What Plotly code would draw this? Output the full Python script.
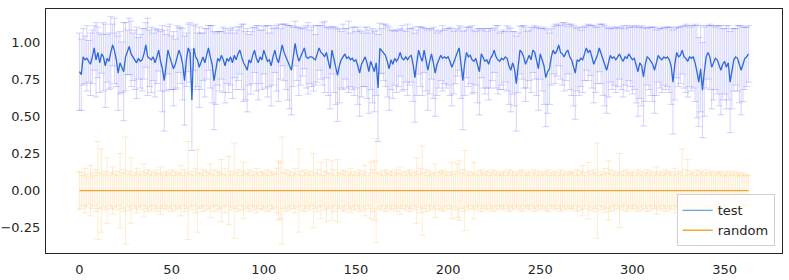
import plotly.graph_objects as go

# x positions: days 0..363
days = list(range(364))

test_mean = [
    0.80, 0.78, 0.90, 0.88, 0.89, 0.87, 0.85, 0.90, 0.96, 0.88,
    0.93, 0.86, 0.92, 0.90, 0.84, 0.89, 0.87, 0.93, 0.98, 0.94,
    0.88, 0.79, 0.86, 0.83, 0.80, 0.90, 0.93, 0.97, 0.92, 0.90,
    0.88, 0.86, 0.89, 0.87, 0.88, 0.92, 0.98, 0.90, 0.89, 0.88,
    0.90, 0.86, 0.90, 0.945, 0.87, 0.82, 0.74, 0.86, 0.945, 0.90,
    0.86, 0.82, 0.85, 0.90, 0.945, 0.91, 0.85, 0.74, 0.88, 0.96,
    0.93, 0.61, 0.96, 0.90, 0.88, 0.83, 0.87, 0.90, 0.86, 0.92,
    0.96, 0.90, 0.85, 0.74, 0.82, 0.89, 0.87, 0.91, 0.88, 0.84,
    0.89, 0.87, 0.90, 0.86, 0.91, 0.88, 0.92, 0.945, 0.90, 0.86,
    0.84, 0.81, 0.88, 0.86, 0.91, 0.945, 0.89, 0.86, 0.90, 0.88,
    0.945, 0.90, 0.87, 0.88, 0.84, 0.90, 0.945, 0.89, 0.86, 0.92,
    0.98, 0.93, 0.90, 0.86, 0.83, 0.81, 0.90, 0.99, 0.92, 0.87,
    0.90, 0.93, 0.96, 0.90, 0.89, 0.90, 0.90, 0.89, 0.88, 0.92,
    0.96, 0.93, 0.92, 0.90, 0.93, 0.87, 0.82, 0.945, 0.88, 0.84,
    0.776, 0.84, 0.88, 0.90, 0.92, 0.89, 0.90, 0.88, 0.89, 0.87,
    0.88, 0.84, 0.79, 0.85, 0.88, 0.90, 0.86, 0.80, 0.87, 0.84,
    0.80, 0.86, 0.69, 0.957, 0.94, 0.93, 0.91, 0.87, 0.82, 0.88,
    0.85, 0.89, 0.87, 0.89, 0.93, 0.89, 0.88, 0.90, 0.88, 0.90,
    0.91, 0.85, 0.76, 0.86, 0.945, 0.90, 0.87, 0.945, 0.88, 0.81,
    0.87, 0.92, 0.86, 0.79, 0.85, 0.88, 0.91, 0.89, 0.90, 0.89,
    0.90, 0.87, 0.83, 0.86, 0.90, 0.93, 0.96, 0.86, 0.74, 0.86,
    0.93, 0.90, 0.91, 0.88, 0.87, 0.89, 0.84, 0.80, 0.92, 0.89,
    0.87, 0.88, 0.85, 0.89, 0.91, 0.945, 0.90, 0.88, 0.87, 0.89,
    0.88, 0.90, 0.89, 0.84, 0.81, 0.86, 0.82, 0.72, 0.86, 0.945,
    0.93, 0.90, 0.85, 0.88, 0.91, 0.88, 0.945, 0.93, 0.87, 0.82,
    0.92, 0.88, 0.84, 0.76, 0.80, 0.82, 0.90, 0.945, 0.92, 0.94,
    0.98, 0.93, 0.92, 0.90, 0.93, 0.945, 0.90, 0.88, 0.84, 0.79,
    0.88, 0.87, 0.89, 0.88, 0.92, 0.96, 0.93, 0.945, 0.90, 0.85,
    0.88, 0.91, 0.96, 0.92, 0.88, 0.84, 0.81, 0.86, 0.91, 0.89,
    0.90, 0.88, 0.90, 0.92, 0.89, 0.87, 0.90, 0.89, 0.92, 0.90,
    0.88, 0.89, 0.85, 0.80, 0.86, 0.84, 0.765, 0.85, 0.90, 0.89,
    0.87, 0.85, 0.81, 0.86, 0.91, 0.89, 0.88, 0.90, 0.89, 0.90,
    0.88, 0.84, 0.73, 0.85, 0.93, 0.90, 0.91, 0.945, 0.90, 0.89,
    0.87, 0.90, 0.89, 0.90, 0.86, 0.80, 0.73, 0.82, 0.676, 0.80,
    0.90, 0.93, 0.90, 0.83, 0.86, 0.89, 0.88, 0.84, 0.81, 0.85,
    0.87, 0.83, 0.86, 0.73, 0.82, 0.88, 0.90, 0.89, 0.85, 0.81,
    0.85, 0.89, 0.90, 0.92,
]

test_err = [
    0.26, 0.24, 0.19, 0.16, 0.22, 0.14, 0.21, 0.18, 0.15, 0.25,
    0.17, 0.20, 0.13, 0.23, 0.28, 0.16, 0.19, 0.24, 0.14, 0.22,
    0.18, 0.25, 0.21, 0.17, 0.33, 0.23, 0.15, 0.19, 0.22, 0.16,
    0.20, 0.24, 0.14, 0.18, 0.21, 0.17, 0.15, 0.26, 0.19, 0.22,
    0.16, 0.23, 0.18, 0.14, 0.20, 0.29, 0.34, 0.19, 0.16, 0.22,
    0.18, 0.25, 0.17, 0.21, 0.15, 0.19, 0.24, 0.30, 0.18, 0.16,
    0.20, 0.34, 0.15, 0.22, 0.18, 0.27, 0.19, 0.16, 0.23, 0.17,
    0.15, 0.21, 0.26, 0.33, 0.24, 0.18, 0.20, 0.16, 0.22, 0.25,
    0.17, 0.21, 0.19, 0.24, 0.15, 0.20, 0.18, 0.16, 0.22, 0.26,
    0.23, 0.28, 0.17, 0.21, 0.19, 0.15, 0.22, 0.25, 0.18, 0.20,
    0.16, 0.21, 0.24, 0.18, 0.27, 0.19, 0.15, 0.22, 0.26, 0.17,
    0.14, 0.19, 0.22, 0.25, 0.28, 0.30, 0.20, 0.15, 0.18, 0.23,
    0.19, 0.16, 0.14, 0.21, 0.24, 0.18, 0.20, 0.22, 0.17, 0.19,
    0.15, 0.18, 0.21, 0.24, 0.17, 0.23, 0.27, 0.16, 0.22, 0.26,
    0.31, 0.25, 0.19, 0.22, 0.17, 0.20, 0.24, 0.18, 0.21, 0.23,
    0.19, 0.26, 0.29, 0.22, 0.18, 0.20, 0.24, 0.28, 0.19, 0.25,
    0.27, 0.22, 0.36, 0.17, 0.15, 0.19, 0.21, 0.24, 0.28, 0.20,
    0.23, 0.18, 0.21, 0.19, 0.16, 0.22, 0.20, 0.17, 0.24, 0.19,
    0.18, 0.25, 0.30, 0.22, 0.16, 0.20, 0.23, 0.15, 0.21, 0.27,
    0.22, 0.17, 0.24, 0.29, 0.21, 0.19, 0.17, 0.22, 0.18, 0.20,
    0.19, 0.23, 0.26, 0.21, 0.18, 0.16, 0.15, 0.24, 0.33, 0.22,
    0.17, 0.20, 0.19, 0.23, 0.21, 0.18, 0.25, 0.29, 0.16, 0.20,
    0.22, 0.19, 0.24, 0.20, 0.17, 0.15, 0.21, 0.23, 0.19, 0.18,
    0.20, 0.17, 0.22, 0.26, 0.28, 0.21, 0.25, 0.32, 0.20, 0.16,
    0.18, 0.21, 0.25, 0.19, 0.17, 0.22, 0.15, 0.18, 0.23, 0.28,
    0.17, 0.21, 0.26, 0.33, 0.28, 0.24, 0.19, 0.16, 0.20, 0.17,
    0.14, 0.18, 0.21, 0.23, 0.19, 0.16, 0.22, 0.24, 0.27, 0.31,
    0.21, 0.23, 0.19, 0.22, 0.18, 0.15, 0.19, 0.17, 0.21, 0.26,
    0.22, 0.19, 0.16, 0.20, 0.24, 0.27, 0.29, 0.23, 0.18, 0.21,
    0.19, 0.22, 0.20, 0.17, 0.21, 0.24, 0.19, 0.22, 0.18, 0.20,
    0.23, 0.21, 0.26, 0.30, 0.24, 0.27, 0.33, 0.25, 0.19, 0.21,
    0.23, 0.25, 0.29, 0.22, 0.18, 0.20, 0.22, 0.19, 0.21, 0.20,
    0.22, 0.26, 0.35, 0.24, 0.17, 0.20, 0.19, 0.16, 0.21, 0.23,
    0.24, 0.20, 0.22, 0.21, 0.26, 0.31, 0.30, 0.29, 0.32, 0.30,
    0.21, 0.18, 0.22, 0.28, 0.25, 0.21, 0.23, 0.27, 0.30, 0.24,
    0.22, 0.28, 0.25, 0.34, 0.27, 0.21, 0.19, 0.22, 0.26, 0.30,
    0.25, 0.21, 0.20, 0.19,
]

# the random baseline sits exactly on zero for every day
random_mean = [0.0] * 364

random_err = [
    0.13, 0.12, 0.10, 0.15, 0.11, 0.09, 0.17, 0.12, 0.10, 0.14,
    0.33, 0.12, 0.28, 0.11, 0.13, 0.22, 0.10, 0.12, 0.16, 0.11,
    0.13, 0.10, 0.25, 0.12, 0.14, 0.36, 0.11, 0.13, 0.22, 0.10,
    0.12, 0.15, 0.11, 0.13, 0.10, 0.18, 0.12, 0.14, 0.11, 0.13,
    0.10, 0.12, 0.14, 0.11, 0.16, 0.12, 0.10, 0.13, 0.11, 0.12,
    0.14, 0.10, 0.13, 0.11, 0.12, 0.17, 0.10, 0.14, 0.12, 0.33,
    0.11, 0.13, 0.10, 0.15, 0.28, 0.12, 0.11, 0.14, 0.10, 0.13,
    0.12, 0.18, 0.11, 0.14, 0.10, 0.13, 0.12, 0.21, 0.11, 0.15,
    0.10, 0.23, 0.13, 0.11, 0.32, 0.12, 0.14, 0.10, 0.13, 0.19,
    0.11, 0.12, 0.14, 0.10, 0.13, 0.11, 0.15, 0.12, 0.10, 0.13,
    0.12, 0.11, 0.14, 0.10, 0.13, 0.12, 0.11, 0.15, 0.20, 0.19,
    0.36, 0.12, 0.14, 0.11, 0.13, 0.10, 0.12, 0.15, 0.11, 0.28,
    0.13, 0.10, 0.14, 0.12, 0.11, 0.13, 0.10, 0.25, 0.12, 0.14,
    0.11, 0.19, 0.10, 0.13, 0.21, 0.12, 0.11, 0.20, 0.14, 0.10,
    0.21, 0.12, 0.11, 0.14, 0.13, 0.10, 0.12, 0.15, 0.11, 0.13,
    0.10, 0.12, 0.14, 0.11, 0.13, 0.17, 0.10, 0.12, 0.19, 0.14,
    0.20, 0.35, 0.12, 0.11, 0.13, 0.10, 0.14, 0.12, 0.11, 0.13,
    0.10, 0.12, 0.14, 0.11, 0.16, 0.12, 0.10, 0.13, 0.11, 0.14,
    0.12, 0.10, 0.13, 0.22, 0.11, 0.15, 0.30, 0.12, 0.14, 0.10,
    0.13, 0.11, 0.12, 0.18, 0.10, 0.13, 0.12, 0.14, 0.11, 0.13,
    0.10, 0.12, 0.19, 0.11, 0.13, 0.18, 0.20, 0.12, 0.14, 0.27,
    0.11, 0.13, 0.10, 0.12, 0.19, 0.11, 0.13, 0.10, 0.14, 0.12,
    0.11, 0.13, 0.10, 0.12, 0.14, 0.11, 0.13, 0.10, 0.12, 0.11,
    0.13, 0.10, 0.12, 0.14, 0.11, 0.13, 0.10, 0.12, 0.11, 0.13,
    0.14, 0.10, 0.12, 0.11, 0.13, 0.10, 0.12, 0.14, 0.11, 0.13,
    0.10, 0.12, 0.11, 0.13, 0.14, 0.10, 0.12, 0.11, 0.13, 0.10,
    0.12, 0.14, 0.11, 0.13, 0.10, 0.12, 0.11, 0.13, 0.12, 0.10,
    0.14, 0.11, 0.13, 0.17, 0.12, 0.10, 0.19, 0.13, 0.11, 0.14,
    0.12, 0.32, 0.10, 0.13, 0.11, 0.15, 0.12, 0.20, 0.14, 0.11,
    0.13, 0.10, 0.12, 0.25, 0.11, 0.13, 0.10, 0.14, 0.12, 0.11,
    0.13, 0.10, 0.12, 0.14, 0.11, 0.13, 0.10, 0.12, 0.14, 0.11,
    0.13, 0.10, 0.12, 0.16, 0.11, 0.13, 0.10, 0.12, 0.14, 0.11,
    0.13, 0.12, 0.10, 0.15, 0.11, 0.13, 0.12, 0.28, 0.10, 0.14,
    0.21, 0.11, 0.13, 0.12, 0.10, 0.14, 0.11, 0.13, 0.12, 0.10,
    0.14, 0.11, 0.12, 0.13, 0.10, 0.12, 0.11, 0.13, 0.12, 0.10,
    0.11, 0.13, 0.10, 0.12, 0.11, 0.13, 0.10, 0.12, 0.11, 0.10,
    0.12, 0.10, 0.11, 0.10,
]

x_ticks = [0, 50, 100, 150, 200, 250, 300, 350]
y_ticks = [-0.25, 0.0, 0.25, 0.5, 0.75, 1.0]
y_tick_text = ["\u22120.25", "0.00", "0.25", "0.50", "0.75", "1.00"]
series_names = ["test", "random"]

FONT = "DejaVu Sans, sans-serif"
TXT = "#262626"

fig = go.Figure()

fig.add_trace(go.Scatter(
    x=days, y=test_mean, mode="lines", showlegend=False,
    line=dict(color="#2e69d8", width=1.3),
    error_y=dict(type="data", array=test_err, visible=True,
                 color="rgba(40,40,255,0.2)", thickness=1, width=3.5),
))
fig.add_trace(go.Scatter(
    x=days, y=random_mean, mode="lines", showlegend=False,
    line=dict(color="#f2a531", width=1.1),
    error_y=dict(type="data", array=random_err, visible=True,
                 color="rgba(255,170,40,0.22)", thickness=1, width=3.5),
))

# legend entries
fig.add_trace(go.Scatter(x=[None], y=[None], mode="lines", name=series_names[0],
                         line=dict(color="#5ea6e4", width=1.3)))
fig.add_trace(go.Scatter(x=[None], y=[None], mode="lines", name=series_names[1],
                         line=dict(color="#f5a733", width=1.3)))

fig.update_layout(
    width=789, height=280,
    margin=dict(l=46, r=7, t=9, b=27, autoexpand=False),
    paper_bgcolor="white", plot_bgcolor="white",
    font=dict(family=FONT, size=13, color=TXT),
    showlegend=True,
    legend=dict(
        x=0.990, y=0.027, xanchor="right", yanchor="bottom",
        bgcolor="rgba(255,255,255,0.8)", bordercolor="#d0d0d0", borderwidth=1,
        font=dict(family=FONT, size=13, color=TXT),
        itemwidth=30, tracegroupgap=0,
    ),
)
fig.update_xaxes(
    range=[-18.15, 381.15], tickvals=x_ticks, automargin=False,
    showgrid=False, zeroline=False,
    showline=True, mirror=True, linecolor=TXT, linewidth=1.2,
    ticks="outside", ticklen=4, tickcolor="rgba(0,0,0,0)",
    tickfont=dict(family=FONT, size=13, color=TXT),
)
fig.update_yaxes(
    range=[-0.42, 1.222], tickvals=y_ticks, ticktext=y_tick_text, automargin=False,
    showgrid=False, zeroline=False,
    showline=True, mirror=True, linecolor=TXT, linewidth=1.2,
    ticks="outside", ticklen=2, tickcolor="rgba(0,0,0,0)",
    tickfont=dict(family=FONT, size=13, color=TXT),
)

fig.write_html(
    "out.html",
    config={"displayModeBar": False},
    post_script="document.body.style.margin='0';document.body.style.overflow='hidden';",
)
